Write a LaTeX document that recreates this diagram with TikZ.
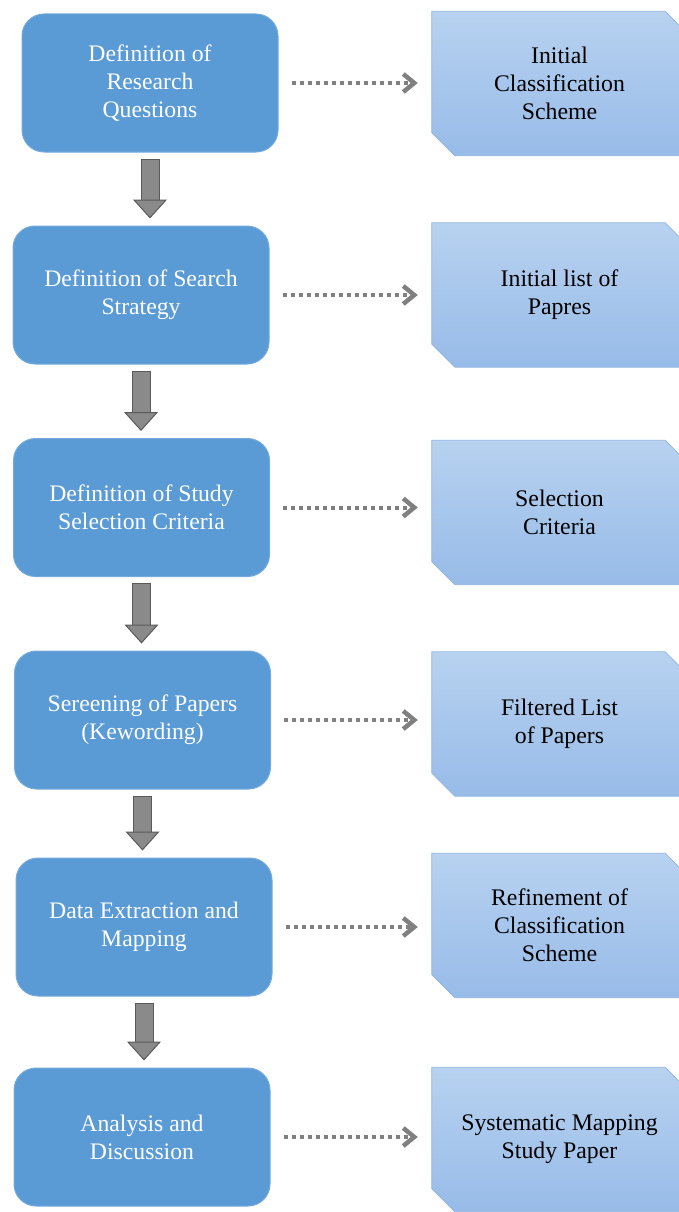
\documentclass[tikz,border=0pt]{standalone}
\usepackage{fontspec}
\setmainfont{Liberation Serif}
\usetikzlibrary{arrows.meta,backgrounds}

\definecolor{stepblue}{HTML}{5B9BD5}
\definecolor{stepedge}{HTML}{74AADC}
\definecolor{outtop}{HTML}{B8D2F0}
\definecolor{outbottom}{HTML}{97BBE8}
\definecolor{outedge}{HTML}{8FB4E2}
\definecolor{arrowfill}{HTML}{8A8A8A}
\definecolor{arrowedge}{HTML}{5A5A5A}
\definecolor{dotgray}{HTML}{808080}

\tikzset{
  stepbox/.style={draw=stepedge, line width=1pt, fill=stepblue, rounded corners=22pt,
    minimum width=256pt, minimum height=138pt, align=center, text=white,
    font=\fontsize{23.7}{28}\selectfont},
  outbox/.style={minimum width=255pt, minimum height=144pt, align=center, text=black,
    font=\fontsize{23.8}{28}\selectfont},
  outshape/.style={draw=outedge, line width=0.8pt, top color=outtop, bottom color=outbottom},
  flowarrow/.style={line width=17pt, draw=arrowfill, shorten <=7pt, shorten >=7pt,
    -{Triangle[length=19pt,width=34pt,fill=arrowfill,color=arrowedge,line width=1pt]},
    preaction={-, draw=arrowedge, line width=19pt, shorten <=6pt, shorten >=25pt}},
  yieldarrow/.style={draw=dotgray, line width=4pt, dash pattern=on 4pt off 4pt,
    shorten <=13pt, shorten >=14pt,
    -{Straight Barb[length=11pt,width=18pt,line width=4.5pt]}}
}

\begin{document}
\begin{tikzpicture}[x=1pt,y=-1pt]
\useasboundingbox (0,0) rectangle (678,1212);

% process steps
\node[stepbox] (q1) at (150,83) {Definition of\\Research\\Questions};
\node[stepbox] (q2) at (141,295) {Definition of Search\\Strategy};
\node[stepbox] (q3) at (141.5,507.5) {Definition of Study\\Selection Criteria};
\node[stepbox] (q4) at (142.5,720) {Sereening of Papers\\(Kewording)};
\node[stepbox] (q5) at (144,927) {Data Extraction and\\Mapping};
\node[stepbox] (q6) at (142,1137) {Analysis and\\Discussion};

% outcomes
\node[outbox] (r1) at (559.5,83.5) {Initial\\Classification\\Scheme};
\node[outbox] (r2) at (559.5,295) {Initial list of\\Papres};
\node[outbox] (r3) at (559.5,512.5) {Selection\\Criteria};
\node[outbox] (r4) at (559.5,724) {Filtered List\\of Papers};
\node[outbox] (r5) at (559.5,925.5) {Refinement of\\Classification\\Scheme};
\node[outbox] (r6) at (559.5,1139.5) {Systematic Mapping\\Study Paper};

% snipped corners behind the outcome texts
\begin{scope}[on background layer]
\foreach \i in {1,...,6}
  \draw[outshape] (r\i.north west) -- ([xshift=-22pt]r\i.north east)
    -- ([yshift=-22pt]r\i.north east) -- (r\i.south east)
    -- ([xshift=23pt]r\i.south west) -- ([yshift=23pt]r\i.south west) -- cycle;
\end{scope}

\foreach \a/\b in {q1/q2,q2/q3,q3/q4,q4/q5,q5/q6}
  \draw[flowarrow] (\a.south) -- (\a.south |- \b.north);

\foreach \i in {1,...,6}
  \draw[yieldarrow] (q\i.east) -- (q\i.east -| r\i.west);

\end{tikzpicture}
\end{document}
